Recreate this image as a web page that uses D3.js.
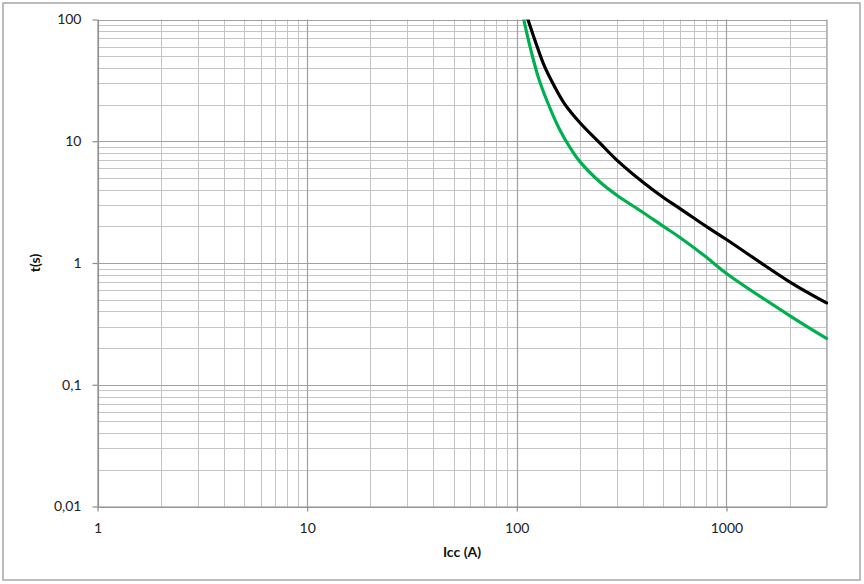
<!DOCTYPE html>
<html>
<head>
<meta charset="utf-8">
<script src="https://cdn.jsdelivr.net/npm/d3@7"></script>
<style>
  html, body { margin: 0; padding: 0; background: #fff; }
  svg { display: block; }
</style>
</head>
<body>
<script>
// ---- data ----
const xTickValues = [1, 10, 100, 1000];
const xTickLabels = ["1", "10", "100", "1000"];
const yTickValues = [0.01, 0.1, 1, 10, 100];
const yTickLabels = ["0,01", "0,1", "1", "10", "100"];

const blackI = [113, 118, 125, 135, 150, 170, 200, 250, 300, 400, 500, 600, 800, 1000, 2000, 3000];
const blackT = [100, 80, 60, 42, 29, 20, 14.2, 9.6, 7.0, 4.6, 3.45, 2.8, 2.0, 1.56, 0.70, 0.47];

const greenI = [108, 112, 118, 127, 140, 160, 180, 200, 250, 300, 400, 500, 600, 800, 1000, 2000, 3000];
const greenT = [100, 75, 52, 33, 21, 12.5, 8.8, 6.8, 4.6, 3.6, 2.6, 2.0, 1.62, 1.12, 0.82, 0.37, 0.24];

const xLabel = "Icc (A)";
const yLabel = "t(s)";

// ---- layout ----
const W = 864, H = 584;
const plot = { left: 97.5, right: 826.5, top: 19.5, bottom: 506.5 };

const svg = d3.select("body").append("svg").attr("width", W).attr("height", H);

// outer frame
svg.append("rect").attr("x", 3).attr("y", 3).attr("width", 857).attr("height", 577)
  .attr("fill", "#fff").attr("stroke", "#a6a6a6").attr("stroke-width", 1.5);

const x = d3.scaleLog().domain([1, 3000]).range([plot.left, plot.right]);
const y = d3.scaleLog().domain([0.01, 100]).range([plot.bottom, plot.top]);

// grid values (1..9 x powers of ten)
function gridValues(lo, hi) {
  const out = [];
  for (let p = Math.floor(Math.log10(lo)); p <= Math.ceil(Math.log10(hi)); p++) {
    for (let m = 1; m <= 9; m++) {
      const v = m * Math.pow(10, p);
      if (v >= lo * 0.999 && v <= hi * 1.001) out.push(v);
    }
  }
  return out;
}
const xGrid = gridValues(1, 3000);
const yGrid = gridValues(0.01, 100);
const isMajor = v => Math.abs(Math.log10(v) - Math.round(Math.log10(v))) < 1e-9;

const g = svg.append("g");

// minor grid
g.selectAll("line.vx").data(xGrid.filter(v => !isMajor(v))).enter().append("line")
  .attr("x1", d => Math.round(x(d)) + 0.5).attr("x2", d => Math.round(x(d)) + 0.5)
  .attr("y1", plot.top).attr("y2", plot.bottom)
  .attr("stroke", "#c4c4c4").attr("stroke-width", 1);
g.selectAll("line.hy").data(yGrid.filter(v => !isMajor(v))).enter().append("line")
  .attr("y1", d => Math.round(y(d)) + 0.5).attr("y2", d => Math.round(y(d)) + 0.5)
  .attr("x1", plot.left).attr("x2", plot.right)
  .attr("stroke", "#c4c4c4").attr("stroke-width", 1);
// major grid
g.selectAll("line.mx").data(xGrid.filter(isMajor)).enter().append("line")
  .attr("x1", d => Math.round(x(d)) + 0.5).attr("x2", d => Math.round(x(d)) + 0.5)
  .attr("y1", plot.top).attr("y2", plot.bottom)
  .attr("stroke", "#a0a0a0").attr("stroke-width", 1.2);
g.selectAll("line.my").data(yGrid.filter(isMajor)).enter().append("line")
  .attr("y1", d => Math.round(y(d)) + 0.5).attr("y2", d => Math.round(y(d)) + 0.5)
  .attr("x1", plot.left).attr("x2", plot.right)
  .attr("stroke", "#a0a0a0").attr("stroke-width", 1.2);
// right border of plot
g.append("line").attr("x1", plot.right).attr("x2", plot.right)
  .attr("y1", plot.top).attr("y2", plot.bottom).attr("stroke", "#b4b4b4");

// axes
const fontFamily = "Lato, 'Open Sans', sans-serif";
const xAxis = d3.axisBottom(x).tickValues(xTickValues)
  .tickFormat((d, i) => xTickLabels[i]).tickSize(5).tickSizeOuter(0).tickPadding(12);
const yAxis = d3.axisLeft(y).tickValues(yTickValues)
  .tickFormat((d, i) => yTickLabels[i]).tickSize(5).tickSizeOuter(0).tickPadding(11);

const gx = svg.append("g").attr("transform", `translate(0,${plot.bottom})`).call(xAxis);
const gy = svg.append("g").attr("transform", `translate(${plot.left},0)`).call(yAxis);
[gx, gy].forEach(a => {
  a.select(".domain").attr("stroke", "#8c8c8c").attr("stroke-width", 1.2);
  a.selectAll(".tick line").attr("stroke", "#8c8c8c").attr("stroke-width", 1.2);
  a.selectAll(".tick text").attr("fill", "#222").style("font-family", fontFamily).style("font-size", "14px");
});

// curves
svg.append("clipPath").attr("id", "clip").append("rect")
  .attr("x", plot.left).attr("y", plot.top)
  .attr("width", plot.right - plot.left + 4).attr("height", plot.bottom - plot.top);

const line = d3.line().x(d => x(d[0])).y(d => y(d[1])).curve(d3.curveCatmullRom.alpha(0.5));
const blackData = blackI.map((v, i) => [v, blackT[i]]);
const greenData = greenI.map((v, i) => [v, greenT[i]]);

const curves = svg.append("g").attr("clip-path", "url(#clip)");
curves.append("path").datum(greenData).attr("d", line)
  .attr("fill", "none").attr("stroke", "#00b050").attr("stroke-width", 3.2).attr("stroke-linecap", "round");
curves.append("path").datum(blackData).attr("d", line)
  .attr("fill", "none").attr("stroke", "#000").attr("stroke-width", 3.2).attr("stroke-linecap", "round");

// axis titles
svg.append("text").attr("x", (plot.left + plot.right) / 2).attr("y", 557)
  .attr("text-anchor", "middle").style("font-family", fontFamily).style("font-size", "14px")
  .style("font-weight", "bold").attr("fill", "#111").text(xLabel);
svg.append("text").attr("transform", `translate(40,${(plot.top + plot.bottom) / 2}) rotate(-90)`)
  .attr("text-anchor", "middle").style("font-family", fontFamily).style("font-size", "14px")
  .style("font-weight", "bold").attr("fill", "#111").text(yLabel);
</script>
</body>
</html>
